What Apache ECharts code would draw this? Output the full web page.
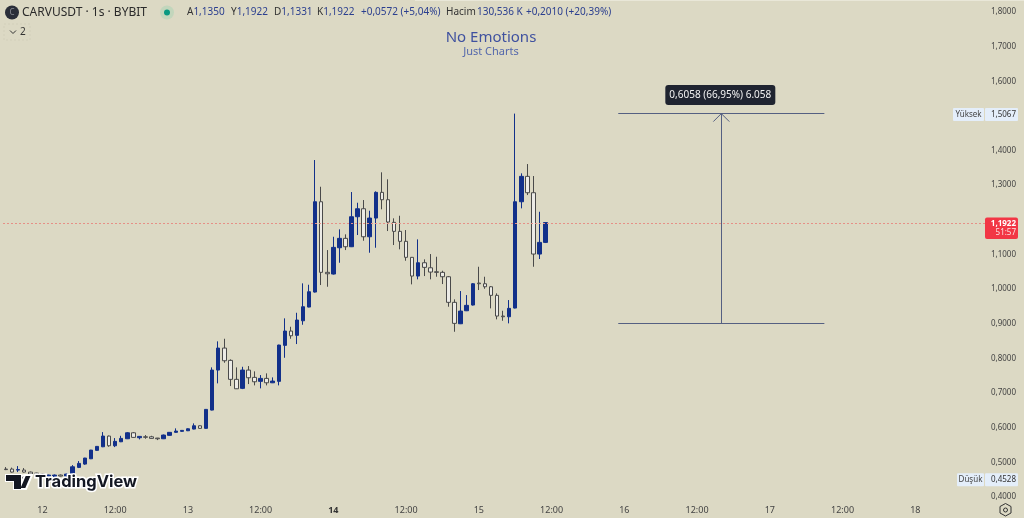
<!DOCTYPE html>
<html>
<head>
<meta charset="utf-8">
<title>CARVUSDT</title>
<style>
html, body { margin: 0; padding: 0; background: #dcd9c4; }
#chart { width: 1024px; height: 518px; }
</style>
<script src="https://cdn.jsdelivr.net/npm/echarts@6/dist/echarts.min.js"></script>
</head>
<body>
<div id="chart"></div>
<script>
// saat grafigi, degerler
var dayLabels = ['12', '13', '14', '15', '16', '17', '18'];
var priceTicks = { min: 0.4, max: 1.8, step: 0.1 };

var opens = [
	.4806, .4806, .4777, .4777, .4719, .4690, .4662, .4604, .4590, .4633, .4604,
	.4662, .4855, .4950, .5103, .5346, .5450, .5759, .5479, .5594, .5681, .5854,
	.5710, .5738, .5738, .5701, .5681, .5779, .5866, .5895, .5912, .5961, .6056,
	.5981, .6509, .7664, .8299, .7944, .7396, .7136, .7664, .7453, .7338, .7424,
	.7297, .7338, .8377, .8790, .8666, .9087, .9483, .9916, 1.2523, 1.0485, 1.0436,
	1.1195, 1.1466, 1.1224, 1.2090, 1.2321, 1.1512, 1.2052, 1.2794, 1.2581, 1.1928, 1.1668,
	1.1380, 1.0918, 1.0378, 1.0762, 1.0617, 1.0502, 1.0485, 1.0358, .9619, .9001, .9376,
	.9541, 1.0176, 1.0156, 1.0069, .9821, .9223, .9203, .9454, 1.2523, 1.3256, 1.2783,
	1.1013, 1.1350
];
var closes = [
	.4791, .4719, .4791, .4719, .4662, .4633, .4604, .4633, .4633, .4604, .4662,
	.4872, .4970, .5124, .5354, .5461, .5759, .5479, .5606, .5692, .5854, .5721,
	.5750, .5724, .5692, .5681, .5788, .5866, .5903, .5923, .5969, .6056, .5981,
	.6529, .7664, .8299, .7933, .7396, .7124, .7664, .7442, .7326, .7424, .7297,
	.7346, .8386, .8790, .8654, .9108, .9492, .9925, 1.2523, 1.0485, 1.0444, 1.1206,
	1.1466, 1.1224, 1.2090, 1.2321, 1.1512, 1.2052, 1.2794, 1.2581, 1.1937, 1.1668, 1.1380,
	1.0918, 1.0378, 1.0762, 1.0629, 1.0493, 1.0485, 1.0358, .9619, .9012, .9367, .9532,
	1.0156, 1.0156, 1.0069, .9821, .9223, .9203, .9445, 1.2523, 1.3256, 1.2783, 1.1013,
	1.1350, 1.1922
];
var lows = [
	.4777, .4705, .4719, .4705, .4650, .4620, .4590, .4590, .4580, .4595, .4595,
	.4633, .4835, .4930, .5095, .5335, .5440, .5450, .5441, .5585, .5672, .5710,
	.5663, .5681, .5686, .5643, .5672, .5770, .5854, .5883, .5903, .5952, .5972,
	.5972, .6500, .7280, .7875, .7202, .7118, .7115, .7260, .7222, .7136, .7222,
	.7289, .7222, .8019, .8568, .8415, .8972, .9475, .9902, 1.0118, 1.0069, 1.0422,
	1.0762, 1.1128, 1.1215, 1.1562, 1.1397, 1.1051, 1.1195, 1.2304, 1.1677, 1.1273, 1.1149,
	1.0820, 1.0138, 1.0283, 1.0378, 1.0283, 1.0358, 1.0147, .9492, .8770, .8992, .9367,
	.9527, .9974, 1.0011, .9445, .9128, .9087, .9012, .9445, 1.2332, 1.2716, 1.0646,
	1.0869, 1.1331
];
var highs = [
	.4864, .4849, .4893, .4835, .4735, .4700, .4675, .4645, .4650, .4650, .4680,
	.4921, .5037, .5130, .5360, .5470, .5874, .5775, .5701, .5767, .5874, .5874,
	.5759, .5788, .5767, .5705, .5802, .5875, .5981, .5932, .5981, .6125, .6068,
	.6538, .7742, .8493, .8568, .7973, .7742, .7759, .7780, .7627, .7520, .7569,
	.7453, .8395, .9157, .8914, .9318, 1.0167, 1.0127, 1.3727, 1.2956, 1.1128, 1.1512,
	1.1726, 1.1582, 1.2803, 1.2494, 1.2572, 1.2263, 1.2823, 1.3372, 1.3170, 1.2044, 1.2119,
	1.1706, 1.0927, 1.1437, 1.0860, 1.1013, 1.0935, 1.0531, 1.0378, .9705, .9945, .9829,
	1.0176, 1.0646, 1.0358, 1.0089, .9878, .9376, .9685, 1.5067, 1.3343, 1.3611, 1.3265,
	1.2234, 1.1922
];

var rangeHigh = 1.5067;
var rangeLow = 0.9009;
var sessionLow = 0.4528;
var lastPrice = 1.1922;

var firstHour = -6;   // 12. gunun 00:00 mumuna gore
var hourCount = 162;
var categories = [];
for (var h = 0; h < hourCount; h++) {
	var abs = firstHour + h + 48;
	var dayIdx = Math.floor(abs / 24) - 2;
	var dayName = dayIdx < 0 ? '11' : dayLabels[dayIdx] || '19';
	var hh = abs % 24;
	categories.push(dayName + '|' + (hh < 10 ? '0' + hh : hh));
}
var candles = opens.map(function (o, i) {
	return [o, closes[i], lows[i], highs[i]];
});

var rulerLeft = categories[101];
var rulerMid = categories[118];
var rulerRight = categories[135];

var chart = echarts.init(document.getElementById('chart'));
var mainFont = '"Noto Sans", sans-serif';
var rulerStyle = { color: '#556082', width: 1, type: 'solid' };

chart.setOption({
	animation: false,
	backgroundColor: '#dcd9c4',
	grid: { left: 3, right: 39, top: 12, bottom: 21 },
	xAxis: {
		type: 'category',
		data: categories,
		boundaryGap: true,
		axisLine: { show: false },
		axisTick: { show: false },
		splitLine: { show: false },
		axisLabel: {
			margin: 9,
			fontSize: 9,
			fontFamily: mainFont,
			color: '#444',
			hideOverlap: false,
			interval: function (i, v) {
				var hh = v.split('|')[1];
				return hh === '00' || hh === '12';
			},
			formatter: function (v) {
				var p = v.split('|');
				if (p[1] === '12') return '12:00';
				return p[0] === '14' ? '{b|' + p[0] + '}' : p[0];
			},
			rich: { b: { fontWeight: 'bold', fontSize: 9, color: '#333', fontFamily: mainFont } }
		}
	},
	yAxis: {
		type: 'value',
		position: 'right',
		min: priceTicks.min,
		max: priceTicks.max,
		interval: priceTicks.step,
		scale: true,
		axisLine: { show: false },
		axisTick: { show: false },
		splitLine: { show: false },
		axisLabel: {
			align: 'right',
			margin: 31,
			fontSize: 8,
			padding: [3, 0, 0, 0],
			fontFamily: mainFont,
			color: '#444',
			formatter: function (v) {
				if (Math.abs(v - 1.2) < 0.001) return '';
				return v.toFixed(4).replace('.', ',');
			}
		}
	},
	series: [{
		type: 'candlestick',
		data: candles,
		barWidth: 4,
		itemStyle: {
			color: '#12308a',
			color0: '#ecebe6',
			borderColor: '#12308a',
			borderColor0: '#4a4a4a',
			borderWidth: 1
		},
		markLine: {
			silent: true,
			symbol: 'none',
			animation: false,
			label: { show: false },
			data: [
				[{ coord: [rulerLeft, rangeHigh], lineStyle: rulerStyle }, { coord: [rulerRight, rangeHigh] }],
				[{ coord: [rulerLeft, rangeLow], lineStyle: rulerStyle }, { coord: [rulerRight, rangeLow] }],
				[{ coord: [rulerMid, rangeLow], lineStyle: rulerStyle }, { coord: [rulerMid, rangeHigh] }],
				{ yAxis: lastPrice, lineStyle: { color: '#e68f86', width: 1, type: [2, 2] } }
			]
		}
	}]
});

/* cizim katmani: eksene bagli etiketler ve baslik */
function yPx(v) {
	return chart.convertToPixel({ yAxisIndex: 0 }, v);
}
function txt(x, y, text, size, color, extra) {
	var style = { x: x, y: y, text: text, fontSize: size, fontFamily: mainFont, fill: color, textVerticalAlign: 'middle' };
	for (var key in extra) style[key] = extra[key];
	return { type: 'text', z: 22, silent: true, style: style };
}
var valueRich = {
	v: { fill: '#2b3f8f', fontSize: 10, fontFamily: mainFont },
	k: { fill: '#333', fontSize: 10, fontFamily: mainFont }
};
var tip = chart.convertToPixel({ seriesIndex: 0 }, [rulerMid, rangeHigh]);
var labelHigh = yPx(rangeHigh);
var labelLow = yPx(sessionLow);
var labelLast = yPx(lastPrice);
var axisBox = '#e4eefa';

var shapes = [
	{ type: 'rect', z: 20, shape: { x: 415, y: 0, width: 609, height: 1 }, style: { fill: '#e9e7d8' } },
	// sembol satiri
	{ type: 'circle', z: 20, shape: { cx: 12, cy: 12.5, r: 7 }, style: { fill: '#2a2e39' } },
	txt(12, 12.5, 'C', 8, '#8a8d95', { textAlign: 'center' }),
	txt(22, 12.5, 'CARVUSDT · 1s · BYBIT', 12, '#2a2a2a'),
	{ type: 'circle', z: 20, shape: { cx: 167, cy: 12.5, r: 7 }, style: { fill: '#c2d6bc' } },
	{ type: 'circle', z: 20, shape: { cx: 167, cy: 12.5, r: 3 }, style: { fill: '#089981' } },
	txt(187, 12.5, '{k|A}{v|1,1350}', 10, '#333', { rich: valueRich }),
	txt(231, 12.5, '{k|Y}{v|1,1922}', 10, '#333', { rich: valueRich }),
	txt(274, 12.5, '{k|D}{v|1,1331}', 10, '#333', { rich: valueRich }),
	txt(317, 12.5, '{k|K}{v|1,1922}', 10, '#333', { rich: valueRich }),
	txt(361, 12.5, '+0,0572 (+5,04%)', 10, '#2b3f8f'),
	txt(446, 12.5, 'Hacim', 10, '#333'),
	txt(477, 12.5, '130,536 K', 10, '#2b3f8f'),
	txt(526, 12.5, '+0,2010 (+20,39%)', 10, '#2b3f8f'),
	// indikator acma
	{ type: 'rect', z: 20, shape: { x: 4, y: 24, width: 26, height: 16 }, style: { fill: 'none', stroke: '#d2cfba', lineWidth: 1, lineDash: [2, 2] } },
	{ type: 'polyline', z: 20, shape: { points: [[10, 30.5], [13, 33.5], [16, 30.5]] }, style: { stroke: '#333', fill: 'none', lineWidth: 1 } },
	txt(20, 32, '2', 10, '#333'),
	// filigran
	txt(491, 37.5, 'No Emotions', 15, '#3f519f', { textAlign: 'center' }),
	txt(491, 51.5, 'Just Charts', 11, '#5468ac', { textAlign: 'center' }),
	// olcum ok basi ve etiket
	{ type: 'polyline', z: 20, shape: { points: [[tip[0] - 8, tip[1] + 8], [tip[0], tip[1]], [tip[0] + 8, tip[1] + 8]] }, style: { stroke: '#556082', fill: 'none', lineWidth: 1 } },
	{ type: 'rect', z: 20, shape: { x: tip[0] - 56, y: labelHigh - 28.5, width: 110, height: 20, r: 3 }, style: { fill: '#1f2430' } },
	txt(tip[0] - 1, labelHigh - 18.5, '0,6058 (66,95%) 6.058', 10, '#f2f2f2', { textAlign: 'center' }),
	// fiyat ekseni etiketleri
	{ type: 'rect', z: 20, shape: { x: 953, y: labelHigh - 5.5, width: 31, height: 13, r: 1 }, style: { fill: axisBox } },
	{ type: 'rect', z: 20, shape: { x: 985, y: labelHigh - 5.5, width: 33, height: 13, r: 1 }, style: { fill: axisBox } },
	txt(968.5, labelHigh + 1, 'Yüksek', 8, '#444', { textAlign: 'center' }),
	txt(1016, labelHigh + 1, '1,5067', 8, '#333', { textAlign: 'right' }),
	{ type: 'rect', z: 20, shape: { x: 957, y: labelLow - 5.5, width: 27, height: 13, r: 1 }, style: { fill: axisBox } },
	{ type: 'rect', z: 20, shape: { x: 985, y: labelLow - 5.5, width: 33, height: 13, r: 1 }, style: { fill: axisBox } },
	txt(970.5, labelLow + 1, 'Düşük', 8, '#444', { textAlign: 'center' }),
	txt(1016, labelLow + 1, '0,4528', 8, '#333', { textAlign: 'right' }),
	{ type: 'rect', z: 21, shape: { x: 985, y: labelLast - 5, width: 33, height: 21.5, r: 2 }, style: { fill: '#f23645' } },
	txt(1016, labelLast + 0.8, '1,1922', 8, '#fff', { textAlign: 'right', fontWeight: 'bold' }),
	txt(1016, labelLast + 10.2, '51:57', 8, '#fde3e5', { textAlign: 'right' }),
	// ayar dugmesi
	{ type: 'polygon', z: 20, shape: { points: [[1005.5, 503.5], [1011, 506.5], [1011, 513], [1005.5, 516], [1000, 513], [1000, 506.5]] }, style: { fill: 'none', stroke: '#333', lineWidth: 1 } },
	{ type: 'circle', z: 20, shape: { cx: 1005.5, cy: 510, r: 2 }, style: { fill: 'none', stroke: '#333', lineWidth: 1 } },
	// TradingView logosu
	{ type: 'polygon', z: 30, shape: { points: [[6, 475], [21, 475], [21, 489], [14, 489], [14, 481], [6, 481]] }, style: { fill: '#131722', stroke: '#fff', lineWidth: 2 } },
	{ type: 'circle', z: 30, shape: { cx: 24, cy: 478, r: 2.8 }, style: { fill: '#131722', stroke: '#fff', lineWidth: 2 } },
	{ type: 'polygon', z: 30, shape: { points: [[25, 475], [32, 475], [26, 489], [19, 489]] }, style: { fill: '#131722', stroke: '#fff', lineWidth: 2 } },
	{ type: 'polygon', z: 31, shape: { points: [[6, 475], [21, 475], [21, 489], [14, 489], [14, 481], [6, 481]] }, style: { fill: '#131722' } },
	{ type: 'text', z: 30, silent: true, style: { x: 35, y: 482, text: 'TradingView', fontSize: 16.5, fontWeight: 'bold', fontFamily: 'Inter, sans-serif', fill: '#131722', stroke: '#fff', lineWidth: 3, textVerticalAlign: 'middle' } }
];
chart.setOption({ graphic: shapes });
</script>
</body>
</html>
